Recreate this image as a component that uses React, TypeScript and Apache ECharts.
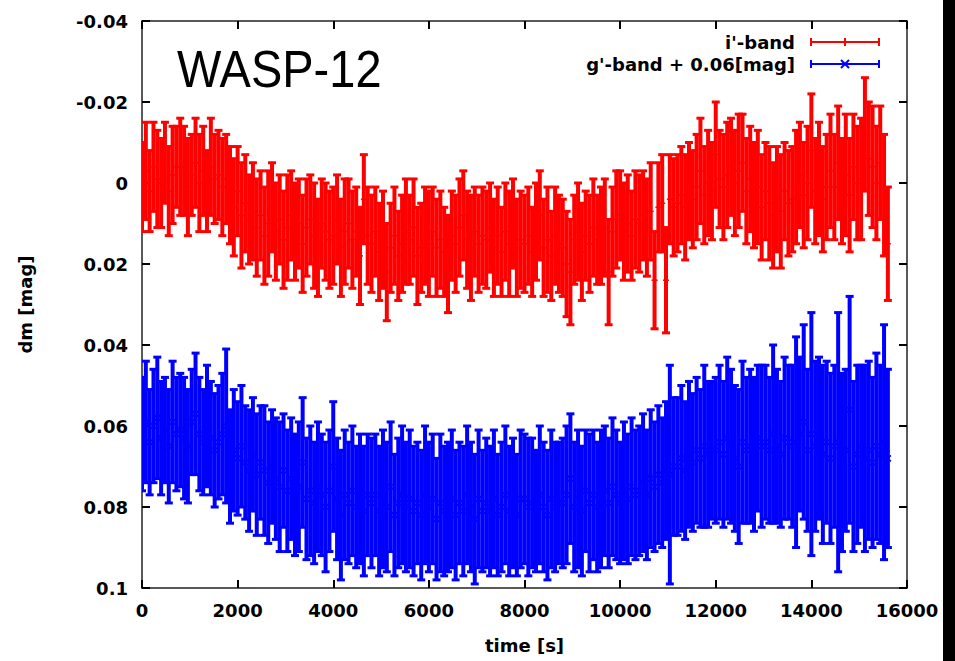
import React, { useEffect, useRef } from "react";
import * as echarts from "echarts";

// Observation times [s]
const TIME_S = [
  0, 80, 160, 240, 320, 400, 480, 560, 640, 720,
  800, 880, 960, 1040, 1120, 1200, 1280, 1360, 1440, 1520,
  1600, 1680, 1760, 1840, 1920, 2000, 2080, 2160, 2240, 2320,
  2400, 2480, 2560, 2640, 2720, 2800, 2880, 2960, 3040, 3120,
  3200, 3280, 3360, 3440, 3520, 3600, 3680, 3760, 3840, 3920,
  4000, 4080, 4160, 4240, 4320, 4400, 4480, 4560, 4640, 4720,
  4800, 4880, 4960, 5040, 5120, 5200, 5280, 5360, 5440, 5520,
  5600, 5680, 5760, 5840, 5920, 6000, 6080, 6160, 6240, 6320,
  6400, 6480, 6560, 6640, 6720, 6800, 6880, 6960, 7040, 7120,
  7200, 7280, 7360, 7440, 7520, 7600, 7680, 7760, 7840, 7920,
  8000, 8080, 8160, 8240, 8320, 8400, 8480, 8560, 8640, 8720,
  8800, 8880, 8960, 9040, 9120, 9200, 9280, 9360, 9440, 9520,
  9600, 9680, 9760, 9840, 9920, 10000, 10080, 10160, 10240, 10320,
  10400, 10480, 10560, 10640, 10720, 10800, 10880, 10960, 11040, 11120,
  11200, 11280, 11360, 11440, 11520, 11600, 11680, 11760, 11840, 11920,
  12000, 12080, 12160, 12240, 12320, 12400, 12480, 12560, 12640, 12720,
  12800, 12880, 12960, 13040, 13120, 13200, 13280, 13360, 13440, 13520,
  13600, 13680, 13760, 13840, 13920, 14000, 14080, 14160, 14240, 14320,
  14400, 14480, 14560, 14640, 14720, 14800, 14880, 14960, 15040, 15120,
  15200, 15280, 15360, 15440, 15520, 15600,
];

// i'-band dm [mag]
const I_BAND = [
  0.001, -0.003, 0.002, -0.004, -0.001, 0.0, -0.005, 0.002, -0.002, -0.004,
  -0.004, -0.003, 0.001, -0.002, -0.005, 0.0, -0.003, 0.002, -0.004, -0.001,
  -0.002, 0.001, -0.001, 0.003, 0.006, 0.002, 0.008, 0.005, 0.009, 0.007,
  0.011, 0.008, 0.013, 0.01, 0.006, 0.012, 0.009, 0.014, 0.011, 0.008,
  0.012, 0.01, 0.015, 0.011, 0.009, 0.013, 0.016, 0.01, 0.012, 0.014,
  0.013, 0.009, 0.016, 0.012, 0.01, 0.014, 0.012, 0.018, 0.004, 0.013,
  0.015, 0.012, 0.017, 0.014, 0.022, 0.016, 0.013, 0.018, 0.015, 0.012,
  0.014, 0.011, 0.018, 0.016, 0.013, 0.015, 0.012, 0.016, 0.014, 0.017,
  0.02, 0.013, 0.015, 0.011, 0.008, 0.014, 0.016, 0.012, 0.015, 0.013,
  0.014, 0.011, 0.016, 0.013, 0.017, 0.012, 0.015, 0.01, 0.016, 0.014,
  0.015, 0.013, 0.017, 0.012, 0.008, 0.016, 0.014, 0.018, 0.013, 0.015,
  0.016, 0.02, 0.022, 0.014, 0.012, 0.017, 0.013, 0.015, 0.011, 0.014,
  0.013, 0.011, 0.022, 0.012, 0.009, 0.008, 0.012, 0.01, 0.013, 0.009,
  0.01, 0.008, 0.011, 0.007, 0.024, 0.006, 0.005, 0.024, 0.004, 0.006,
  0.005, 0.003, 0.006, 0.002, 0.004, 0.001, -0.003, 0.003, 0.0, 0.002,
  -0.007, -0.001, 0.001, -0.002, -0.004, 0.0, -0.003, -0.005, 0.002, -0.001,
  0.003, 0.001, 0.006, 0.002, 0.005, 0.008, 0.004, 0.007, 0.002, 0.005,
  0.004, 0.001, -0.002, 0.003, 0.0, -0.008, 0.002, -0.001, 0.004, 0.001,
  -0.003, 0.001, -0.005, 0.002, -0.002, 0.003, -0.004, 0.0, -0.001, -0.012,
  -0.006, -0.004, 0.0, -0.005, 0.003, 0.015,
];

// i'-band error [mag]
const I_ERR = [
  0.011, 0.012, 0.01, 0.011, 0.012, 0.011, 0.01, 0.011, 0.012, 0.01,
  0.012, 0.011, 0.012, 0.01, 0.011, 0.012, 0.011, 0.01, 0.012, 0.011,
  0.011, 0.012, 0.011, 0.012, 0.012, 0.011, 0.013, 0.012, 0.011, 0.012,
  0.012, 0.011, 0.012, 0.013, 0.011, 0.012, 0.011, 0.012, 0.013, 0.011,
  0.012, 0.011, 0.012, 0.012, 0.011, 0.013, 0.012, 0.011, 0.012, 0.012,
  0.012, 0.011, 0.012, 0.013, 0.011, 0.012, 0.011, 0.012, 0.011, 0.012,
  0.012, 0.011, 0.012, 0.012, 0.012, 0.011, 0.012, 0.011, 0.012, 0.013,
  0.011, 0.012, 0.012, 0.011, 0.012, 0.013, 0.011, 0.012, 0.012, 0.011,
  0.012, 0.011, 0.012, 0.012, 0.011, 0.012, 0.013, 0.011, 0.012, 0.012,
  0.012, 0.011, 0.012, 0.012, 0.011, 0.012, 0.013, 0.011, 0.012, 0.012,
  0.012, 0.012, 0.011, 0.012, 0.011, 0.012, 0.013, 0.011, 0.012, 0.012,
  0.012, 0.013, 0.013, 0.011, 0.012, 0.012, 0.011, 0.012, 0.012, 0.011,
  0.012, 0.012, 0.013, 0.011, 0.012, 0.011, 0.012, 0.012, 0.011, 0.012,
  0.012, 0.011, 0.012, 0.012, 0.012, 0.011, 0.012, 0.013, 0.011, 0.012,
  0.012, 0.012, 0.013, 0.012, 0.012, 0.013, 0.013, 0.012, 0.013, 0.012,
  0.013, 0.012, 0.013, 0.013, 0.012, 0.013, 0.014, 0.012, 0.013, 0.013,
  0.013, 0.014, 0.013, 0.012, 0.014, 0.013, 0.013, 0.014, 0.012, 0.013,
  0.013, 0.014, 0.013, 0.013, 0.014, 0.014, 0.013, 0.014, 0.013, 0.013,
  0.014, 0.013, 0.014, 0.013, 0.015, 0.014, 0.013, 0.014, 0.015, 0.014,
  0.014, 0.015, 0.014, 0.014, 0.015, 0.014,
];

// g'-band dm [mag] (before the +0.06 mag display offset)
const G_BAND = [
  0.002, -0.001, 0.004, 0.0, -0.002, 0.003, 0.001, 0.005, -0.001, 0.002,
  0.001, 0.003, 0.005, -0.001, -0.003, 0.002, 0.004, 0.0, 0.003, 0.006,
  0.004, 0.002, 0.0, 0.01, 0.006, 0.008, 0.005, 0.009, 0.011, 0.007,
  0.012, 0.009, 0.011, 0.014, 0.01, 0.013, 0.015, 0.011, 0.016, 0.013,
  0.017, 0.015, 0.009, 0.018, 0.016, 0.019, 0.015, 0.017, 0.02, 0.016,
  0.01, 0.018, 0.022, 0.017, 0.019, 0.016, 0.02, 0.018, 0.021, 0.017,
  0.019, 0.017, 0.021, 0.018, 0.02, 0.015, 0.022, 0.019, 0.017, 0.02,
  0.018, 0.021, 0.019, 0.022, 0.017, 0.02, 0.018, 0.023, 0.019, 0.021,
  0.02, 0.018, 0.022, 0.019, 0.021, 0.017, 0.02, 0.023, 0.018, 0.021,
  0.019, 0.021, 0.018, 0.022, 0.02, 0.017, 0.021, 0.019, 0.022, 0.018,
  0.018, 0.02, 0.019, 0.021, 0.017, 0.02, 0.022, 0.018, 0.02, 0.019,
  0.019, 0.017, 0.013, 0.02, 0.018, 0.021, 0.016, 0.019, 0.017, 0.02,
  0.018, 0.016, 0.019, 0.015, 0.017, 0.019, 0.016, 0.018, 0.015, 0.017,
  0.016, 0.014, 0.017, 0.013, 0.015, 0.012, 0.014, 0.011, 0.012, 0.01,
  0.01, 0.008, 0.011, 0.007, 0.009, 0.006, 0.008, 0.005, 0.007, 0.006,
  0.006, 0.004, 0.007, 0.003, 0.005, 0.008, 0.01, 0.004, 0.006, 0.005,
  0.007, 0.003, 0.005, 0.004, 0.006, 0.002, 0.005, 0.007, 0.003, 0.004,
  0.005, 0.004, 0.002, -0.001, 0.006, 0.002, 0.005, 0.003, 0.007, 0.004,
  0.008, 0.005, 0.004, 0.009, 0.006, -0.004, 0.01, 0.007, 0.005, 0.008,
  0.006, 0.009, 0.005, 0.007, 0.004, 0.008,
];

// g'-band error [mag]
const G_ERR = [
  0.014, 0.015, 0.013, 0.014, 0.015, 0.014, 0.013, 0.014, 0.015, 0.014,
  0.014, 0.015, 0.014, 0.013, 0.015, 0.014, 0.013, 0.015, 0.014, 0.014,
  0.014, 0.015, 0.019, 0.014, 0.015, 0.014, 0.015, 0.014, 0.015, 0.014,
  0.015, 0.014, 0.016, 0.015, 0.014, 0.015, 0.016, 0.014, 0.015, 0.015,
  0.015, 0.016, 0.016, 0.015, 0.016, 0.015, 0.016, 0.015, 0.016, 0.015,
  0.016, 0.015, 0.016, 0.016, 0.015, 0.016, 0.015, 0.016, 0.016, 0.015,
  0.016, 0.015, 0.016, 0.017, 0.016, 0.016, 0.015, 0.016, 0.017, 0.016,
  0.017, 0.016, 0.015, 0.016, 0.017, 0.016, 0.016, 0.015, 0.017, 0.016,
  0.016, 0.017, 0.016, 0.015, 0.016, 0.017, 0.016, 0.016, 0.017, 0.015,
  0.016, 0.016, 0.017, 0.015, 0.016, 0.017, 0.016, 0.016, 0.015, 0.017,
  0.016, 0.017, 0.016, 0.015, 0.017, 0.016, 0.016, 0.017, 0.016, 0.015,
  0.016, 0.017, 0.016, 0.016, 0.017, 0.016, 0.015, 0.017, 0.016, 0.016,
  0.017, 0.016, 0.016, 0.017, 0.016, 0.015, 0.017, 0.016, 0.017, 0.016,
  0.016, 0.017, 0.016, 0.017, 0.016, 0.017, 0.016, 0.017, 0.027, 0.017,
  0.017, 0.018, 0.017, 0.018, 0.017, 0.018, 0.017, 0.02, 0.018, 0.017,
  0.018, 0.019, 0.018, 0.02, 0.019, 0.018, 0.019, 0.02, 0.018, 0.019,
  0.019, 0.018, 0.02, 0.019, 0.018, 0.022, 0.019, 0.018, 0.02, 0.019,
  0.02, 0.026, 0.019, 0.024, 0.02, 0.03, 0.021, 0.02, 0.022, 0.02,
  0.021, 0.02, 0.032, 0.022, 0.02, 0.028, 0.021, 0.022, 0.02, 0.023,
  0.022, 0.021, 0.023, 0.022, 0.029, 0.022,
];

const G_OFFSET = 0.06;
const SERIES_NAMES = ["i'-band", "g'-band + 0.06[mag]"];
const SERIES_COLORS = ["#ff0000", "#0000ff"];
const TITLE = "WASP-12";
const X_NAME = "time [s]";
const Y_NAME = "dm [mag]";

const FONT = "'DejaVu Sans', sans-serif";

function makeRenderItem(color: string, marker: "plus" | "cross") {
  return (params: any, api: any) => {
    const t = api.value(0);
    const v = api.value(1);
    const e = api.value(2);
    const top = api.coord([t, v - e]);
    const bot = api.coord([t, v + e]);
    const mid = api.coord([t, v]);
    const cap = 4;
    const m = 3;
    const children: any[] = [
      { type: "line", shape: { x1: top[0], y1: top[1], x2: bot[0], y2: bot[1] }, style: { stroke: color, lineWidth: 4 } },
      { type: "line", shape: { x1: top[0] - cap, y1: top[1], x2: top[0] + cap, y2: top[1] }, style: { stroke: color, lineWidth: 3 } },
      { type: "line", shape: { x1: bot[0] - cap, y1: bot[1], x2: bot[0] + cap, y2: bot[1] }, style: { stroke: color, lineWidth: 3 } },
    ];
    if (marker === "plus") {
      children.push({ type: "line", shape: { x1: mid[0] - m, y1: mid[1], x2: mid[0] + m, y2: mid[1] }, style: { stroke: color, lineWidth: 1.5 } });
    } else {
      children.push({ type: "line", shape: { x1: mid[0] - m, y1: mid[1] - m, x2: mid[0] + m, y2: mid[1] + m }, style: { stroke: color, lineWidth: 1.5 } });
      children.push({ type: "line", shape: { x1: mid[0] - m, y1: mid[1] + m, x2: mid[0] + m, y2: mid[1] - m }, style: { stroke: color, lineWidth: 1.5 } });
    }
    return { type: "group", children };
  };
}

export default function App() {
  const ref = useRef<HTMLDivElement>(null);

  useEffect(() => {
    if (!ref.current) return;
    const chart = echarts.init(ref.current, undefined, { renderer: "svg" });

    const iData = TIME_S.map((t, i) => [t, I_BAND[i], I_ERR[i]]);
    const gData = TIME_S.map((t, i) => [t, G_BAND[i] + G_OFFSET, G_ERR[i]]);

    const axisLine = { show: true, onZero: false, lineStyle: { color: "#222", width: 1.5 } };
    const axisTick = { show: true, inside: true, length: 8, lineStyle: { color: "#000", width: 2 } };
    const labelStyle = { color: "#000", fontFamily: FONT, fontWeight: "bold" as const, fontSize: 18 };

    const xBase = { type: "value" as const, min: 0, max: 16000, interval: 2000, splitLine: { show: false }, axisLine, axisTick };
    const yBase = { type: "value" as const, inverse: true, min: -0.04, max: 0.1, interval: 0.02, splitLine: { show: false }, axisLine, axisTick };

    // legend samples
    const legendGraphics: any[] = [];
    const legendY = [42, 64];
    SERIES_NAMES.forEach((name, k) => {
      const y = legendY[k];
      const c = SERIES_COLORS[k];
      legendGraphics.push({
        type: "text",
        x: 795,
        y,
        style: { text: name, fill: "#000", font: `bold 18px ${FONT}`, textAlign: "right", textVerticalAlign: "middle" },
      });
      legendGraphics.push({ type: "line", shape: { x1: 811, y1: y, x2: 879, y2: y }, style: { stroke: c, lineWidth: 2 } });
      legendGraphics.push({ type: "line", shape: { x1: 811, y1: y - 4, x2: 811, y2: y + 4 }, style: { stroke: c, lineWidth: 2 } });
      legendGraphics.push({ type: "line", shape: { x1: 879, y1: y - 4, x2: 879, y2: y + 4 }, style: { stroke: c, lineWidth: 2 } });
      if (k === 0) {
        legendGraphics.push({ type: "line", shape: { x1: 845, y1: y - 4, x2: 845, y2: y + 4 }, style: { stroke: c, lineWidth: 2 } });
      } else {
        legendGraphics.push({ type: "line", shape: { x1: 841, y1: y - 4, x2: 849, y2: y + 4 }, style: { stroke: c, lineWidth: 2 } });
        legendGraphics.push({ type: "line", shape: { x1: 841, y1: y + 4, x2: 849, y2: y - 4 }, style: { stroke: c, lineWidth: 2 } });
      }
    });

    chart.setOption({
      animation: false,
      backgroundColor: "#ffffff",
      grid: { left: 142, right: 48, top: 21, bottom: 73, containLabel: false },
      xAxis: [
        {
          ...xBase,
          position: "bottom",
          name: X_NAME,
          nameLocation: "middle",
          nameGap: 48,
          nameTextStyle: labelStyle,
          axisLabel: { ...labelStyle, margin: 13, formatter: (v: number) => String(v) },
        },
        { ...xBase, position: "top", axisLabel: { show: false } },
      ],
      yAxis: [
        {
          ...yBase,
          position: "left",
          name: Y_NAME,
          nameLocation: "middle",
          nameGap: 108,
          nameTextStyle: labelStyle,
          axisLabel: {
            ...labelStyle,
            margin: 14,
            formatter: (v: number) => String(Number(v.toFixed(2))),
          },
        },
        { ...yBase, position: "right", axisLabel: { show: false } },
      ],
      series: [
        {
          type: "custom",
          name: SERIES_NAMES[0],
          xAxisIndex: 0,
          yAxisIndex: 0,
          clip: true,
          encode: { x: 0, y: 1 },
          renderItem: makeRenderItem(SERIES_COLORS[0], "plus"),
          data: iData,
        },
        {
          type: "custom",
          name: SERIES_NAMES[1],
          xAxisIndex: 0,
          yAxisIndex: 0,
          clip: true,
          encode: { x: 0, y: 1 },
          renderItem: makeRenderItem(SERIES_COLORS[1], "cross"),
          data: gData,
        },
      ],
      graphic: [
        {
          type: "text",
          x: 177,
          y: 69,
          scaleY: 1.1,
          style: { text: TITLE, fill: "#000", font: `47px 'Liberation Sans', Arial, sans-serif`, textAlign: "left", textVerticalAlign: "middle" },
        },
        ...legendGraphics,
        { type: "rect", z: 100, shape: { x: 943, y: 0, width: 12, height: 661 }, style: { fill: "#000" } },
      ],
    });

    return () => chart.dispose();
  }, []);

  return <div ref={ref} style={{ position: "absolute", left: 0, top: 0, width: 955, height: 661 }} />;
}
